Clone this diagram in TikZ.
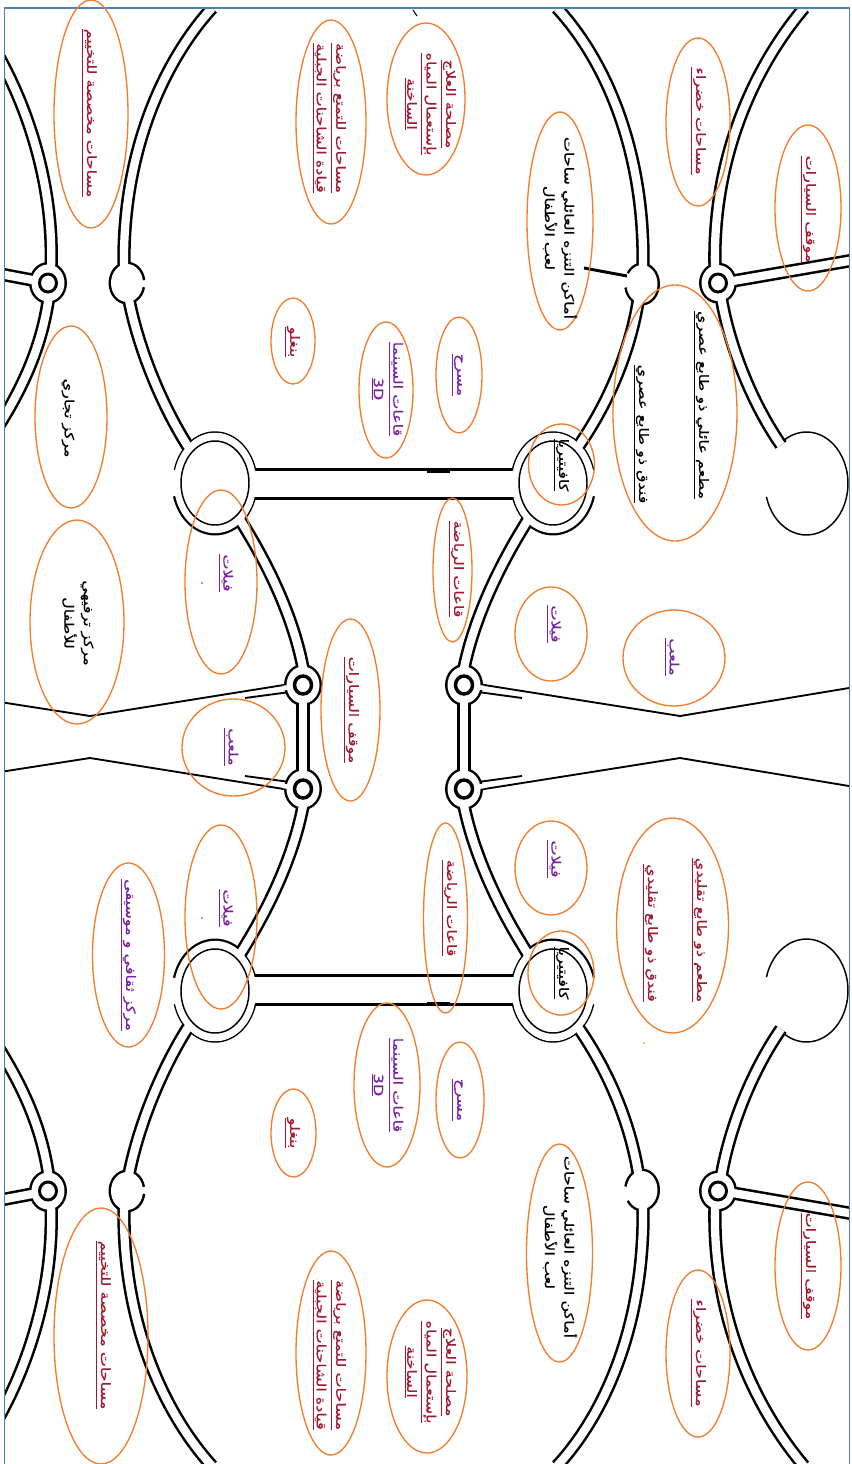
\documentclass[tikz,border=0pt]{standalone}
\usepackage{fontspec}
\newfontfamily\arabicfont[Script=Arabic,FakeStretch=1.25,FakeBold=0.4]{DejaVu Sans}
\TeXXeTstate=1
\definecolor{ovalorange}{HTML}{F47C2A}
\definecolor{framecol}{HTML}{4F81BD}
\definecolor{redtxt}{HTML}{A01830}
\definecolor{purptxt}{HTML}{7A1FA0}
\newcommand\arline[1]{\underline{\beginR #1\endR}}
\newcommand\arbare[1]{\beginR #1\endR}
\tikzset{every picture/.style={line width=0.75pt},
  oval/.style={draw=ovalorange,line width=1pt},
  road/.style={draw=black,line width=1.9pt,double=white,double distance=6.2pt},
  ringthin/.style={draw=black,line width=1.1pt},
  ringthick/.style={draw=black,line width=2.2pt},
  wire/.style={draw=black,line width=1.4pt},
  lbl/.style={rotate=-90,inner sep=0.75pt,align=center,font=\arabicfont\fontsize{9.6}{14.6}\selectfont},
  lblred/.style={lbl,text=redtxt},
  lblpurp/.style={lbl,text=purptxt},
  lblblk/.style={lbl,text=black}}
\begin{document}
\begin{tikzpicture}[x=0.75pt,y=0.75pt,yscale=-1,xscale=1]
\useasboundingbox (0,0) rectangle (852,1464);

\begin{scope}
\clip (4.5,8) rectangle (849.5,1464);
\foreach \oy/\sy in {0/1,1474/-1}{
\begin{scope}[shift={(0,\oy)},yscale=\sy]
%Rings
\draw[ringthick] (48,283) ellipse (17.5 and 19.5);
\draw[ringthick] (718,283) ellipse (17.5 and 19);
\draw[ringthick] (303,685) ellipse (17.5 and 19.5);
\draw[ringthick] (464,685) ellipse (17.5 and 19.5);
\draw[ringthick] (127,283) ++(12:17 and 20) arc[start angle=12,end angle=352,x radius=17,y radius=20];
\draw[ringthick] (642,284) ++(212:16.5 and 20) arc[start angle=212,end angle=530,x radius=16.5,y radius=20];
\draw[ringthin] (215,483) ++(195:42 and 51) arc[start angle=195,end angle=525,x radius=42,y radius=51];
\draw[ringthick] (215,483) ++(45:42 and 51) arc[start angle=45,end angle=165,x radius=42,y radius=51];
\draw[ringthin] (553,483) ++(15:42 and 51) arc[start angle=15,end angle=345,x radius=42,y radius=51];
\draw[ringthick] (553,483) ++(15:42 and 51) arc[start angle=15,end angle=135,x radius=42,y radius=51];
%Roads
\draw[road,double distance=19.5pt] (215,484) -- (553,484);
\draw[road] (212,8) .. controls (165,60) and (122,150) .. (124,268) -- (127,283);
\draw[road] (127,283) -- (129,300) .. controls (140,355) and (165,410) .. (187,445) -- (195,455);
\draw[road] (557,8) .. controls (605,60) and (645,150) .. (643,268) -- (642,284);
\draw[road] (642,284) -- (638,302) .. controls (630,350) and (610,400) .. (580,444) -- (572,455);
\draw[road] (804,8) .. controls (760,60) and (712,150) .. (715,268) -- (718,283);
\draw[road] (718,283) -- (722,302) .. controls (730,345) and (750,400) .. (781,445);
\draw[road] (-5,50) .. controls (30,110) and (54,190) .. (51,268) -- (48,283);
\draw[road] (48,283) -- (48,302) .. controls (42,340) and (28,380) .. (-4,430);
\draw[road] (-5,273) -- (48,283);
\draw[road] (718,283) -- (733,281) -- (860,259);
\draw[road] (235,510) -- (242,523) .. controls (262,555) and (292,610) .. (303,668) -- (303,685);
\draw[road] (533,510) -- (526,523) .. controls (506,555) and (476,610) .. (464,668) -- (464,685);
\draw[road] (303,685) -- (303,737);
\draw[road] (464,685) -- (464,737);
\draw[fill=black,draw=none] (427,468) rectangle (450,472.5);
%Side streets
\draw[wire] (290,684) -- (90,716) -- (0,702);
\draw[wire] (290,692) -- (245,698);
\draw[wire] (478,684) -- (680,716) -- (855,687);
\draw[wire] (478,692) -- (522,698);
\draw[white,line width=3.5pt] (283,688) -- (292,687);
\draw[white,line width=3.5pt] (484,688) -- (475,687);
%Circle at the end of the outer road
\draw[ringthin] (806.5,483.5) ++(-122:41.5 and 51.5) arc[start angle=-122,end angle=165,x radius=41.5,y radius=51.5];
%Inner discs
\fill[white] (48,283) ellipse (16.5 and 18.5);
\fill[white] (718,283) ellipse (16.5 and 18);
\fill[white] (303,685) ellipse (16.5 and 18.5);
\fill[white] (464,685) ellipse (16.5 and 18.5);
\fill[white] (127,283) ellipse (16 and 19);
\fill[white] (642,284) ellipse (15.5 and 19);
\fill[white] (215,483) ellipse (41.2 and 50.2);
\fill[white] (553,483) ellipse (41.2 and 50.2);
\draw[ringthin] (215,483) ellipse (34 and 42);
\draw[ringthin] (553,483) ellipse (34 and 42);
\draw[ringthick] (48,283) ellipse (8.5 and 9);
\draw[ringthick] (718,283) ellipse (8.5 and 9);
\draw[ringthick,line width=2.6pt] (303,685) ellipse (8.5 and 9);
\draw[ringthick,line width=2.6pt] (464,685) ellipse (8.5 and 9);
\end{scope}
}
%Small marks
\draw[ringthick] (584,268) -- (627,276);
\draw[wire,line width=0.8pt] (413,10) -- (417,16);
\fill[redtxt] (202,583) circle (0.8);
\fill[redtxt] (202,918) circle (0.8);
\fill[ovalorange] (644,1043) circle (0.8);
\end{scope}

%Frame
\draw[framecol,line width=1.1pt] (4.5,8) rectangle (849.5,1470);

%Shape: Ellipses
\draw[oval] (91,114) ellipse (37 and 114);
\draw[oval] (331,122) ellipse (35 and 102);
\draw[oval] (426,99) ellipse (39 and 76);
\draw[oval] (560,221) ellipse (33 and 109);
\draw[oval] (698,122) ellipse (32 and 84);
\draw[oval] (808,208) ellipse (33 and 83);
\draw[oval] (293,341) ellipse (22 and 43);
\draw[oval] (386,390) ellipse (27 and 68);
\draw[oval] (459,375) ellipse (23 and 58);
\draw[oval] (71,417) ellipse (36 and 91);
\draw[oval] (675,413) ellipse (62 and 128);
\draw[oval] (561.5,464.5) ellipse (33 and 40.5);
\draw[oval] (77,622) ellipse (47 and 102);
\draw[oval] (221,582) ellipse (36 and 92);
\draw[oval] (452.5,570) ellipse (19.5 and 72);
\draw[oval] (551,634) ellipse (36 and 47);
\draw[oval] (674,658) ellipse (51 and 48);
\draw[oval] (350.5,710) ellipse (29.5 and 91);
\draw[oval] (233.5,747.5) ellipse (51.5 and 48.5);
\draw[oval] (221,917) ellipse (36 and 92);
\draw[oval] (128.5,955) ellipse (36 and 92);
\draw[oval] (445.5,918) ellipse (22 and 95);
\draw[oval] (551,868) ellipse (36 and 47);
\draw[oval] (672.5,925.5) ellipse (56 and 107.5);
\draw[oval] (561,973) ellipse (33 and 42);
\draw[oval] (387,1085) ellipse (33 and 82);
\draw[oval] (460,1100) ellipse (24 and 58);
\draw[oval] (293.5,1133) ellipse (22.5 and 44);
\draw[oval] (559.5,1253) ellipse (33 and 109);
\draw[oval] (101,1336) ellipse (47 and 128);
\draw[oval] (331,1353) ellipse (35 and 102);
\draw[oval] (427,1376.5) ellipse (40 and 76.5);
\draw[oval] (698,1353.5) ellipse (32 and 83.5);
\draw[oval] (808,1266) ellipse (33 and 84);

% Text Node
\node[lblred] (campa) at (89,113) {\arline{مساحات مخصصة للتخييم}};
\node[lblred] (trucka) at (329,118) {\arline{مساحات للتمتع برياضة}\\\arline{قيادة الشاحنات الجبلية}};
\node[lblred] (spaa) at (430,104) {\arline{مصلحة العلاج}\\\arline{بإستعمال المياه}\\\arline{الساخنة}};
\node[lblblk] (parka) at (560,228) {\arbare{أماكن التنزه العائلي ساحات}\\\arbare{لعب الأطفال}};
\node[lblred] (greena) at (698,121) {\arline{مساحات خضراء}};
\node[lblred] (carsa) at (808,209) {\arline{موقف السيارات}};
\node[lblred] (bungala) at (292,342) {\arline{بنغلو}};
\node[lblpurp] (cinemaa) at (387,389) {\arline{قاعات السينما}\\\underline{3D}};
\node[lblpurp] (stagea) at (457,375) {\arline{مسرح}};
\node[lblblk] (mall) at (68,418) {\arbare{مركز تجاري}};
\node[lblblk] (resta) at (701,405) {\arline{مطعم عائلي ذو طابع عصري}};
\node[lblblk] (hotela) at (641,434) {\arline{فندق ذو طابع عصري}};
\node[lblblk] (cafea) at (561,465) {\arline{كافيتيريا}};
\node[lblblk] (kids) at (78,623) {\arbare{مركز ترفيهي}\\\arbare{للأطفال}};
\node[lblpurp] (villaa) at (226,573) {\arline{فيلات}};
\node[lblred] (sporta) at (456,569) {\arline{قاعات الرياضة}};
\node[lblpurp] (villab) at (554,624) {\arline{فيلات}};
\node[lblpurp] (fielda) at (672,657) {\arline{ملعب}};
\node[lblred] (carsb) at (351,710) {\arline{موقف السيارات}};
\node[lblpurp] (fieldb) at (231,747) {\arline{ملعب}};
\node[lblpurp] (villac) at (226,908) {\arline{فيلات}};
\node[lblpurp] (culture) at (128,955) {\arline{مركز ثقافي و موسيقى}};
\node[lblred] (sportb) at (449,908) {\arline{قاعات الرياضة}};
\node[lblpurp] (villad) at (554,859) {\arline{فيلات}};
\node[lblred] (restb) at (699,930) {\arline{مطعم ذو طابع تقليدي}};
\node[lblred] (hotelb) at (650,933) {\arline{فندق ذو طابع تقليدي}};
\node[lblblk] (cafeb) at (561,973) {\arline{كافيتيريا}};
\node[lblpurp] (cinemab) at (387,1085) {\arline{قاعات السينما}\\\underline{3D}};
\node[lblpurp] (stageb) at (457,1100) {\arline{مسرح}};
\node[lblred] (bungalb) at (292,1133) {\arline{بنغلو}};
\node[lblblk] (parkb) at (560,1247) {\arbare{أماكن التنزه العائلي ساحات}\\\arbare{لعب الأطفال}};
\node[lblred] (campb) at (103,1325) {\arline{مساحات مخصصة للتخييم}};
\node[lblred] (truckb) at (329,1355) {\arline{مساحات للتمتع برياضة}\\\arline{قيادة الشاحنات الجبلية}};
\node[lblred] (spab) at (430,1372) {\arline{مصلحة العلاج}\\\arline{بإستعمال المياه}\\\arline{الساخنة}};
\node[lblred] (greenb) at (698,1353) {\arline{مساحات خضراء}};
\node[lblred] (carsc) at (808,1266) {\arline{موقف السيارات}};
\end{tikzpicture}
\end{document}
